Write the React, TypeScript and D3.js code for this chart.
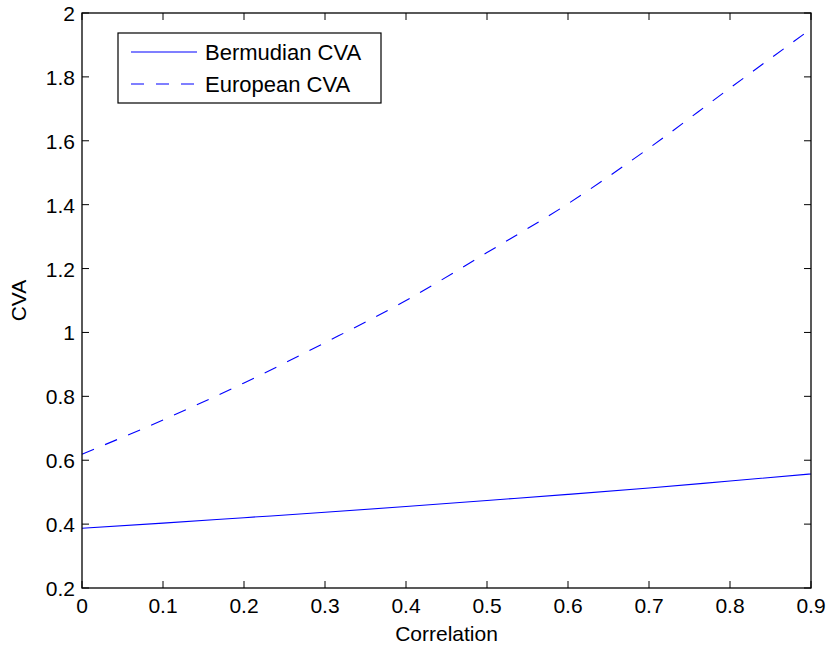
import React from 'react';
import * as d3 from 'd3';

const correlation = [0, 0.1, 0.2, 0.3, 0.4, 0.5, 0.6, 0.7, 0.8, 0.9];
const bermudianCVA = [0.387, 0.403, 0.42, 0.437, 0.455, 0.474, 0.493, 0.513, 0.535, 0.557];
const europeanCVA = [0.619, 0.726, 0.842, 0.968, 1.1, 1.25, 1.403, 1.577, 1.765, 1.95];
const xTicks = [0, 0.1, 0.2, 0.3, 0.4, 0.5, 0.6, 0.7, 0.8, 0.9];
const yTicks = [0.2, 0.4, 0.6, 0.8, 1, 1.2, 1.4, 1.6, 1.8, 2];
const seriesNames = ['Bermudian CVA', 'European CVA'];

const W = 830, H = 650;
const left = 82, right = 811, top = 13, bottom = 588;
const font = 'Liberation Sans, Arial, sans-serif';

const App = () => {
  const x = d3.scaleLinear().domain([0, 0.9]).range([left, right]);
  const y = d3.scaleLinear().domain([0.2, 2]).range([bottom, top]);

  const line = d3.line<number>()
    .x((d, i) => x(correlation[i]))
    .y((d) => y(d))
    .curve(d3.curveMonotoneX);

  const tick = 7;

  return (
    <svg width={W} height={H} style={{ position: 'absolute', left: 0, top: 0, background: '#fff' }}>
      <rect x={0} y={0} width={W} height={H} fill="#fff" />

      <path d={line(bermudianCVA) || ''} fill="none" stroke="#0000ff" strokeWidth={1.1} />
      <path d={line(europeanCVA) || ''} fill="none" stroke="#0000ff" strokeWidth={1.1} strokeDasharray="13,12" />

      <rect x={left} y={top} width={right - left} height={bottom - top} fill="none" stroke="#000" strokeWidth={1.3} />

      {xTicks.map((t) => (
        <g key={'x' + t}>
          <line x1={x(t)} x2={x(t)} y1={bottom} y2={bottom - tick} stroke="#000" strokeWidth={1} />
          <line x1={x(t)} x2={x(t)} y1={top} y2={top + tick} stroke="#000" strokeWidth={1} />
          <text x={x(t)} y={bottom + 25} textAnchor="middle" fontFamily={font} fontSize={21}>{String(t)}</text>
        </g>
      ))}
      {yTicks.map((t) => (
        <g key={'y' + t}>
          <line x1={left} x2={left + tick} y1={y(t)} y2={y(t)} stroke="#000" strokeWidth={1} />
          <line x1={right} x2={right - tick} y1={y(t)} y2={y(t)} stroke="#000" strokeWidth={1} />
          <text x={left - 7} y={y(t) + 8} textAnchor="end" fontFamily={font} fontSize={21}>{String(t)}</text>
        </g>
      ))}

      <text x={(left + right) / 2} y={641} textAnchor="middle" fontFamily={font} fontSize={21}>Correlation</text>
      <text transform={`translate(26,${(top + bottom) / 2}) rotate(-90)`} textAnchor="middle" fontFamily={font} fontSize={21}>CVA</text>

      <g>
        <rect x={118} y={33} width={263} height={70} fill="#fff" stroke="#000" strokeWidth={1.2} />
        {seriesNames.map((name, i) => (
          <g key={name}>
            <line x1={131} x2={197} y1={52 + i * 32} y2={52 + i * 32} stroke="#0000ff" strokeWidth={1.1}
              strokeDasharray={i === 1 ? '13,12' : undefined} />
            <text x={205} y={52 + i * 32 + 8} fontFamily={font} fontSize={22}>{name}</text>
          </g>
        ))}
      </g>
    </svg>
  );
};

export default App;
